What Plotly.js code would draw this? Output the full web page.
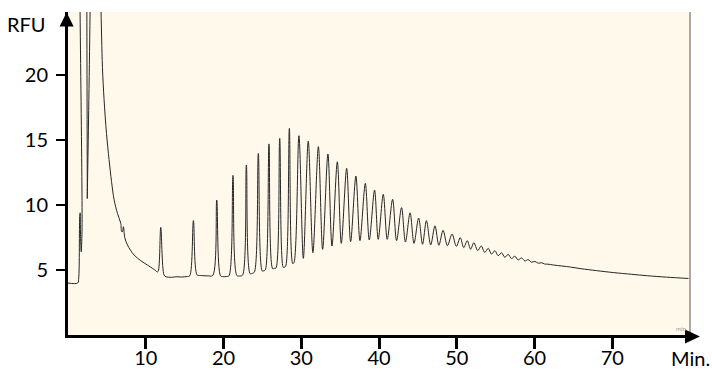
<!DOCTYPE html>
<html>
<head>
<meta charset="utf-8">
<script src="https://cdn.plot.ly/plotly-3.0.1.min.js"></script>
<style>
  html, body { margin: 0; padding: 0; background: #ffffff; }
  #chart { width: 712px; height: 372px; }
</style>
</head>
<body>
<div id="chart"></div>
<script>
// Chromatogram trace (minutes, RFU)
const timeMin = [
  0, 1.25, 1.38, 1.5, 1.56, 1.63, 1.7, 1.8, 2.05, 2.42, 2.48, 2.55,
  4.2, 4.43, 4.64, 4.95, 5.28, 5.6, 5.93, 6.36, 6.79, 6.9, 7.0, 7.13, 7.22, 7.3,
  7.65, 8.5, 9.36, 10.22, 10.86, 11.29, 11.45, 11.6, 11.93, 12.35, 12.6,
  13.3, 14.0, 14.6, 15.3, 15.65, 16.13, 16.6, 17.0, 18.0, 18.62,
  19.13, 19.62, 19.95, 20.35, 20.7, 21.22, 21.72, 22.1, 22.45, 22.94, 23.42, 23.7,
  23.98, 24.48, 24.98, 25.2, 25.38, 25.85, 26.32, 26.55, 26.75, 27.23, 27.68, 27.82,
  28.0, 28.47, 28.9, 29.06, 29.7, 30.27, 30.9, 31.5, 32.2, 32.75, 33.43, 33.95,
  34.64, 35.15, 35.84, 36.35, 37.03, 37.55, 38.24, 38.75, 39.43, 39.9, 40.55, 41.06,
  41.75, 42.26, 42.9, 43.4, 44.0, 44.5, 45.1, 45.6, 46.1, 46.65, 47.2, 47.7,
  48.24, 48.8, 49.4, 49.95, 50.45, 50.9, 51.35, 51.78, 52.2, 52.7, 53.15, 53.6,
  54.05, 54.47, 54.9, 55.33, 55.76, 56.18, 56.62, 57.04, 57.47, 57.9, 58.33, 58.76,
  59.19, 59.6, 60.05, 60.5, 60.9, 61.3, 61.7,
  62.5, 64.6, 66.0, 68.0, 70.2, 72.5, 74.5, 77.0, 79.8
];
const rfu = [
  4.0, 4.0, 4.4, 9.0, 9.4, 7.2, 6.4, 8.0, 60, 60, 10.5, 60,
  26, 20.6, 18.1, 15.5, 13.5, 11.8, 10.4, 9.36, 8.59, 7.95, 7.95, 8.33, 7.87, 7.5,
  6.92, 6.15, 5.72, 5.38, 5.13, 4.95, 4.85, 4.9, 8.28, 4.62, 4.48,
  4.44, 4.48, 4.46, 4.5, 4.55, 8.8, 4.62, 4.58, 4.55, 4.58,
  10.38, 4.55, 4.49, 4.5, 4.55, 12.28, 4.58, 4.54, 4.6, 13.08, 4.72, 4.74,
  4.85, 13.97, 4.92, 4.95, 5.0, 14.7, 5.1, 5.13, 5.15, 15.13, 5.2, 5.21,
  5.3, 15.9, 5.5, 5.56, 15.33, 5.9, 14.92, 6.33, 14.49, 6.59, 13.92, 6.85,
  13.33, 7.05, 12.82, 7.18, 12.23, 7.26, 11.67, 7.31, 11.15, 7.36, 10.82, 7.36,
  10.44, 7.26, 9.8, 7.15, 9.4, 7.05, 9.0, 6.98, 8.8, 6.93, 8.4, 6.9,
  8.05, 6.87, 7.77, 6.82, 7.49, 6.72, 7.26, 6.6, 7.1, 6.49, 6.85, 6.35,
  6.67, 6.22, 6.49, 6.1, 6.33, 5.98, 6.2, 5.88, 6.06, 5.78, 5.93, 5.7,
  5.8, 5.6, 5.66, 5.52, 5.56, 5.46, 5.45,
  5.38, 5.23, 5.1, 4.95, 4.8, 4.67, 4.56, 4.45, 4.35
];
const xTickVals = [10, 20, 30, 40, 50, 60, 70];
const yTickVals = [5, 10, 15, 20];
const yLabel = "RFU";
const xLabel = "Min.";

const FONT = "Lato, 'Open Sans', sans-serif";

const trace = {
  x: timeMin,
  y: rfu,
  type: "scatter",
  mode: "lines",
  line: { color: "#262626", width: 1, shape: "spline", smoothing: 0.9 },
  hoverinfo: "skip",
  showlegend: false
};

const layout = {
  width: 712,
  height: 372,
  margin: { l: 68, r: 22, t: 12, b: 37, pad: 0 },
  paper_bgcolor: "#ffffff",
  plot_bgcolor: "#fff9ec",
  showlegend: false,
  font: { family: FONT, size: 20, color: "#000000" },
  xaxis: {
    range: [0, 80],
    showgrid: false,
    zeroline: false,
    showline: true,
    linecolor: "#000000",
    linewidth: 3,
    ticks: "outside",
    ticklen: 11,
    tickwidth: 3,
    tickcolor: "#000000",
    tickmode: "array",
    tickvals: xTickVals,
    ticktext: xTickVals.map(String),
    tickfont: { family: FONT, size: 20, color: "#000000" },
    ticklabelstandoff: -8,
    fixedrange: true
  },
  yaxis: {
    range: [0, 24.85],
    showgrid: false,
    zeroline: false,
    showline: true,
    linecolor: "#000000",
    linewidth: 3,
    ticks: "outside",
    ticklen: 9,
    tickwidth: 2.5,
    tickcolor: "#000000",
    tickmode: "array",
    tickvals: yTickVals,
    ticktext: yTickVals.map(String),
    tickfont: { family: FONT, size: 20, color: "#000000" },
    ticklabelstandoff: 4,
    fixedrange: true
  },
  shapes: [
    // right border of plot
    { type: "line", xref: "paper", yref: "paper", x0: 1, x1: 1, y0: 0, y1: 1,
      line: { color: "#555555", width: 1 } },
    // y axis arrow head
    { type: "path", xref: "paper", yref: "paper",
      path: "M -0.0135,0.955 L 0.0090,0.955 L -0.0022,0.999 Z",
      fillcolor: "#000000", line: { color: "#000000", width: 0 } },
    // x axis arrow head
    { type: "path", xref: "paper", yref: "paper",
      path: "M 0.9920,0.017 L 0.9920,-0.026 L 1.0160,-0.0045 Z",
      fillcolor: "#000000", line: { color: "#000000", width: 0 } }
  ],
  annotations: [
    { text: yLabel, xref: "paper", yref: "paper", x: -0.0665, y: 0.962,
      xanchor: "center", yanchor: "middle", showarrow: false,
      font: { family: FONT, size: 20, color: "#000000" } },
    { text: xLabel, xref: "paper", yref: "paper", x: 1.0, y: -0.07,
      xanchor: "center", yanchor: "middle", showarrow: false,
      font: { family: FONT, size: 20, color: "#000000" } },
    { text: "min", xref: "paper", yref: "paper", x: 0.985, y: 0.02,
      xanchor: "center", yanchor: "middle", showarrow: false,
      font: { family: FONT, size: 6, color: "#9a9a9a" } }
  ]
};

Plotly.newPlot("chart", [trace], layout, { displayModeBar: false, staticPlot: true });
</script>
</body>
</html>
